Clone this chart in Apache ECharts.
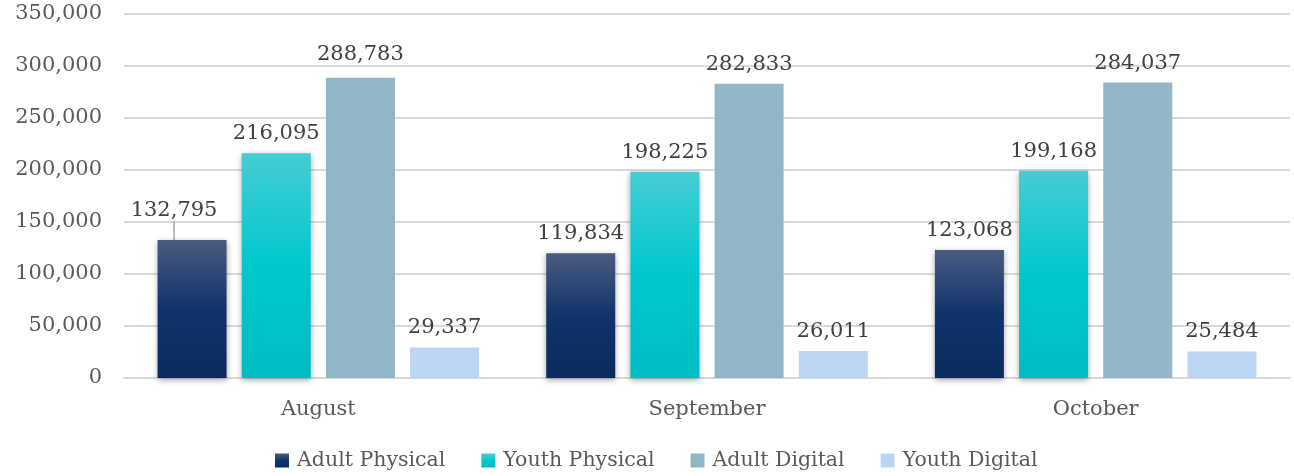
<!DOCTYPE html>
<html><head><meta charset="utf-8">
<script src="https://cdn.jsdelivr.net/npm/echarts@6/dist/echarts.min.js"></script>
<style>html,body{margin:0;padding:0;background:#fff}#c{width:1294px;height:476px}</style>
</head><body><div id="c"></div>
<script>
const categories = ['August', 'September', 'October'];
const seriesNames = ['Adult Physical', 'Youth Physical', 'Adult Digital', 'Youth Digital'];
const adultPhysical = [132795, 119834, 123068];
const youthPhysical = [216095, 198225, 199168];
const adultDigital = [288783, 282833, 284037];
const youthDigital = [29337, 26011, 25484];
const yTicks = [0, 50000, 100000, 150000, 200000, 250000, 300000, 350000];

const FONT = 'DejaVu Serif';
const fmt = v => v.toLocaleString('en-US');
const grad = (a, b, c) => new echarts.graphic.LinearGradient(0, 0, 0, 1, [
  {offset: 0, color: a}, {offset: 0.5, color: b}, {offset: 1, color: c}]);

const colors = [
  grad('#4b5b80', '#10336a', '#0a2b5e'),
  grad('#45cdd2', '#00c8cf', '#00bcc3'),
  '#91b6c7',
  '#bdd5f3'
];
const values = [adultPhysical, youthPhysical, adultDigital, youthDigital];

// label adjustments (series index -> data index -> shift)
const labelShift = {0: {0: {dx: -18, dy: -10, line: true}}, 2: {0: {dx: 0, dy: -4}}};

const chart = echarts.init(document.getElementById('c'));
chart.setOption({
  animation: false,
  grid: {left: 124, right: 4, top: 14, bottom: 98},
  legend: {
    bottom: 0, left: 270, itemWidth: 14, itemHeight: 14, itemGap: 36,
    icon: 'rect',
    textStyle: {fontFamily: FONT, fontSize: 20.5, color: '#595959', padding: [0, 0, 0, 3]},
    data: seriesNames
  },
  xAxis: {
    type: 'category', data: categories,
    axisLine: {lineStyle: {color: '#d9d9d9', width: 2}},
    axisTick: {show: false},
    axisLabel: {fontFamily: FONT, fontSize: 21, color: '#595959', margin: 21}
  },
  yAxis: {
    type: 'value', min: yTicks[0], max: yTicks[yTicks.length - 1], interval: 50000,
    axisLine: {show: false}, axisTick: {show: false},
    splitLine: {lineStyle: {color: '#d9d9d9', width: 2}},
    axisLabel: {fontFamily: FONT, fontSize: 21, color: '#595959', margin: 22, formatter: v => fmt(v)}
  },
  series: seriesNames.map((n, i) => ({
    name: n, type: 'bar',
    data: values[i].map((v, j) => {
      const s = labelShift[i] && labelShift[i][j];
      return s && s.line ? {value: v, labelLine: {show: true, lineStyle: {color: '#a6a6a6', width: 1.5}}} : v;
    }),
    barWidth: 69, barGap: '22%',
    itemStyle: Object.assign({color: colors[i]}, i < 2 ? {shadowBlur: 6, shadowColor: 'rgba(0,0,0,0.35)', shadowOffsetY: 2} : {}),
    label: {show: true, position: 'top', distance: 9, fontFamily: FONT, fontSize: 21, color: '#404040', formatter: p => fmt(p.value)},
    labelLayout: p => {
      const s = labelShift[i] && labelShift[i][p.dataIndex];
      return s ? {dx: s.dx, dy: s.dy} : {};
    }
  }))
});
</script></body></html>
